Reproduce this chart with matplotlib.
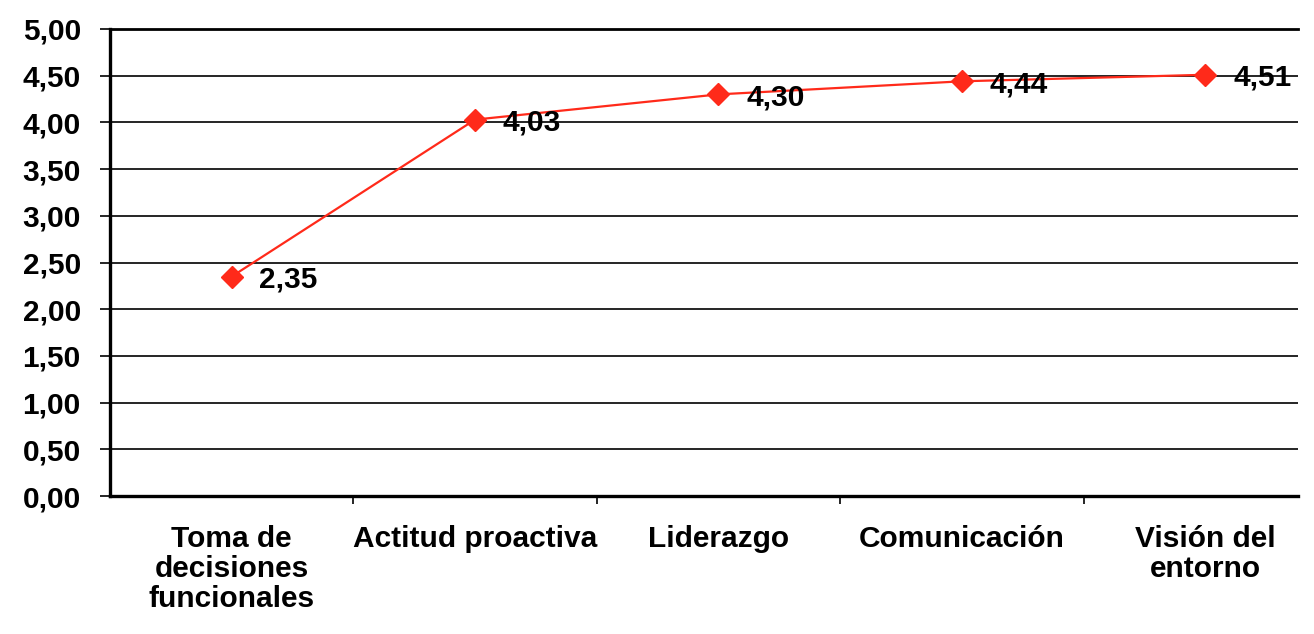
import matplotlib
matplotlib.use("Agg")
import matplotlib.pyplot as plt
from matplotlib.ticker import FixedLocator, NullFormatter, FuncFormatter

categories = ["Toma de\ndecisiones\nfuncionales", "Actitud proactiva", "Liderazgo",
              "Comunicación", "Visión del\nentorno"]
values = [2.35, 4.03, 4.30, 4.44, 4.51]
value_labels = ["2,35", "4,03", "4,30", "4,44", "4,51"]
y_ticks = [0, 0.5, 1, 1.5, 2, 2.5, 3, 3.5, 4, 4.5, 5]

plt.rcParams['font.family'] = ['Liberation Sans', 'DejaVu Sans']
plt.rcParams['font.weight'] = 'bold'

fig = plt.figure(figsize=(13.14, 6.34), dpi=100)
ax = fig.add_axes([110/1314, 1-496/634, (1298-110)/1314, (496-29)/634])

x = list(range(len(categories)))
red = '#FF2A1A'
ax.plot(x, values, color=red, lw=1.6, marker='D', markersize=11,
        markerfacecolor=red, markeredgecolor=red, zorder=5, clip_on=False)

for xi, v, lab in zip(x, values, value_labels):
    ax.annotate(lab, (xi, v), xytext=(20, -2), textcoords='offset points',
                ha='left', va='center', fontsize=21.5, fontweight='bold',
                color='black', zorder=6, annotation_clip=False)

ax.set_ylim(0, 5)
ax.set_xlim(-0.5, 4.5 - (1327 - 1298) / 244)
ax.set_yticks(y_ticks)
ax.yaxis.set_major_formatter(FuncFormatter(lambda v, p: f"{v:.2f}".replace('.', ',')))
ax.grid(axis='y', color='black', lw=1.2)
ax.set_axisbelow(True)

ax.xaxis.set_major_locator(FixedLocator([0.5, 1.5, 2.5, 3.5]))
ax.xaxis.set_major_formatter(NullFormatter())
ax.xaxis.set_minor_locator(FixedLocator(x))
ax.set_xticklabels(categories, minor=True)
ax.tick_params(axis='x', which='minor', length=0, pad=21, labelsize=21.5)
ax.tick_params(axis='x', which='major', length=6, width=1.2, direction='out')
ax.tick_params(axis='y', length=7, width=1.2, direction='out', pad=14, labelsize=21.5)
for t in ax.get_xticklabels(minor=True):
    t.set_fontweight('bold')
    t.set_linespacing(1.08)
for t in ax.get_yticklabels():
    t.set_fontweight('bold')

ax.spines['right'].set_visible(False)
ax.spines['top'].set_linewidth(2.0)
ax.spines['left'].set_linewidth(2.4)
ax.spines['bottom'].set_linewidth(2.4)

fig.savefig('out.png', dpi=100)
